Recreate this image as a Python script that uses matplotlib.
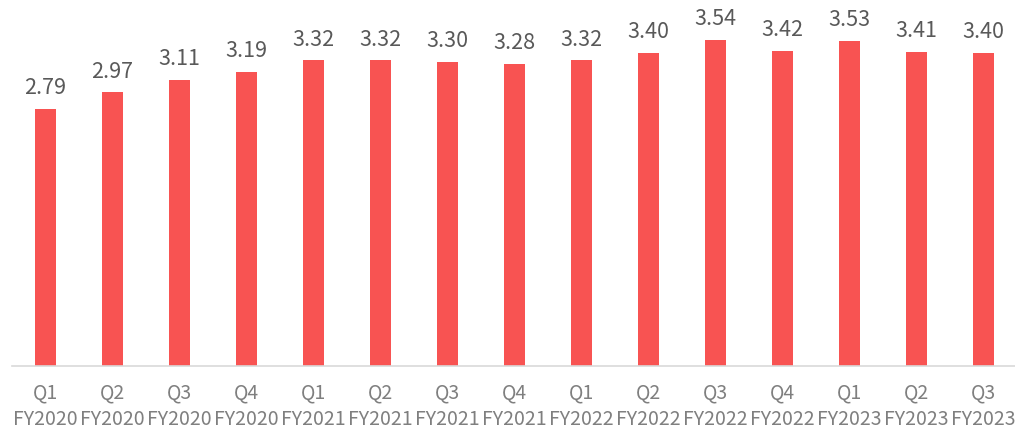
import matplotlib
matplotlib.use("Agg")
from matplotlib import pyplot as plt

quarters = ["Q1", "Q2", "Q3", "Q4", "Q1", "Q2", "Q3", "Q4",
            "Q1", "Q2", "Q3", "Q4", "Q1", "Q2", "Q3"]
years = ["FY2020"] * 4 + ["FY2021"] * 4 + ["FY2022"] * 4 + ["FY2023"] * 3
values = [2.79, 2.97, 3.11, 3.19, 3.32, 3.32, 3.30, 3.28,
          3.32, 3.40, 3.54, 3.42, 3.53, 3.41, 3.40]

plt.rcParams["font.family"] = ["Noto Sans CJK JP", "DejaVu Sans"]

fig = plt.figure(figsize=(10.15, 4.33), dpi=100)
ax = fig.add_axes([12 / 1015, 67 / 433, 1005 / 1015, 366 / 433])

x = range(len(values))
bars = ax.bar(x, values, width=0.32, color="#F85352")

ax.set_xlim(-0.5, len(values) - 0.5)
ax.set_ylim(0, 3.974)

for rect, v in zip(bars, values):
    ax.annotate(f"{v:.2f}", (rect.get_x() + rect.get_width() / 2, v),
                xytext=(0, 7), textcoords="offset points",
                ha="center", va="bottom", fontsize=15.5, color="#595959")

ax.set_xticks(list(x))
ax.set_xticklabels([f"{q}\n{y}" for q, y in zip(quarters, years)],
                   fontsize=14, color="#7F7F7F", linespacing=1.35)
ax.tick_params(axis="x", length=0, pad=12)
ax.set_yticks([])

for side in ["top", "right", "left"]:
    ax.spines[side].set_visible(False)
ax.spines["bottom"].set_color("#D9D9D9")
ax.spines["bottom"].set_linewidth(1.2)

fig.savefig("out.png", dpi=100)
